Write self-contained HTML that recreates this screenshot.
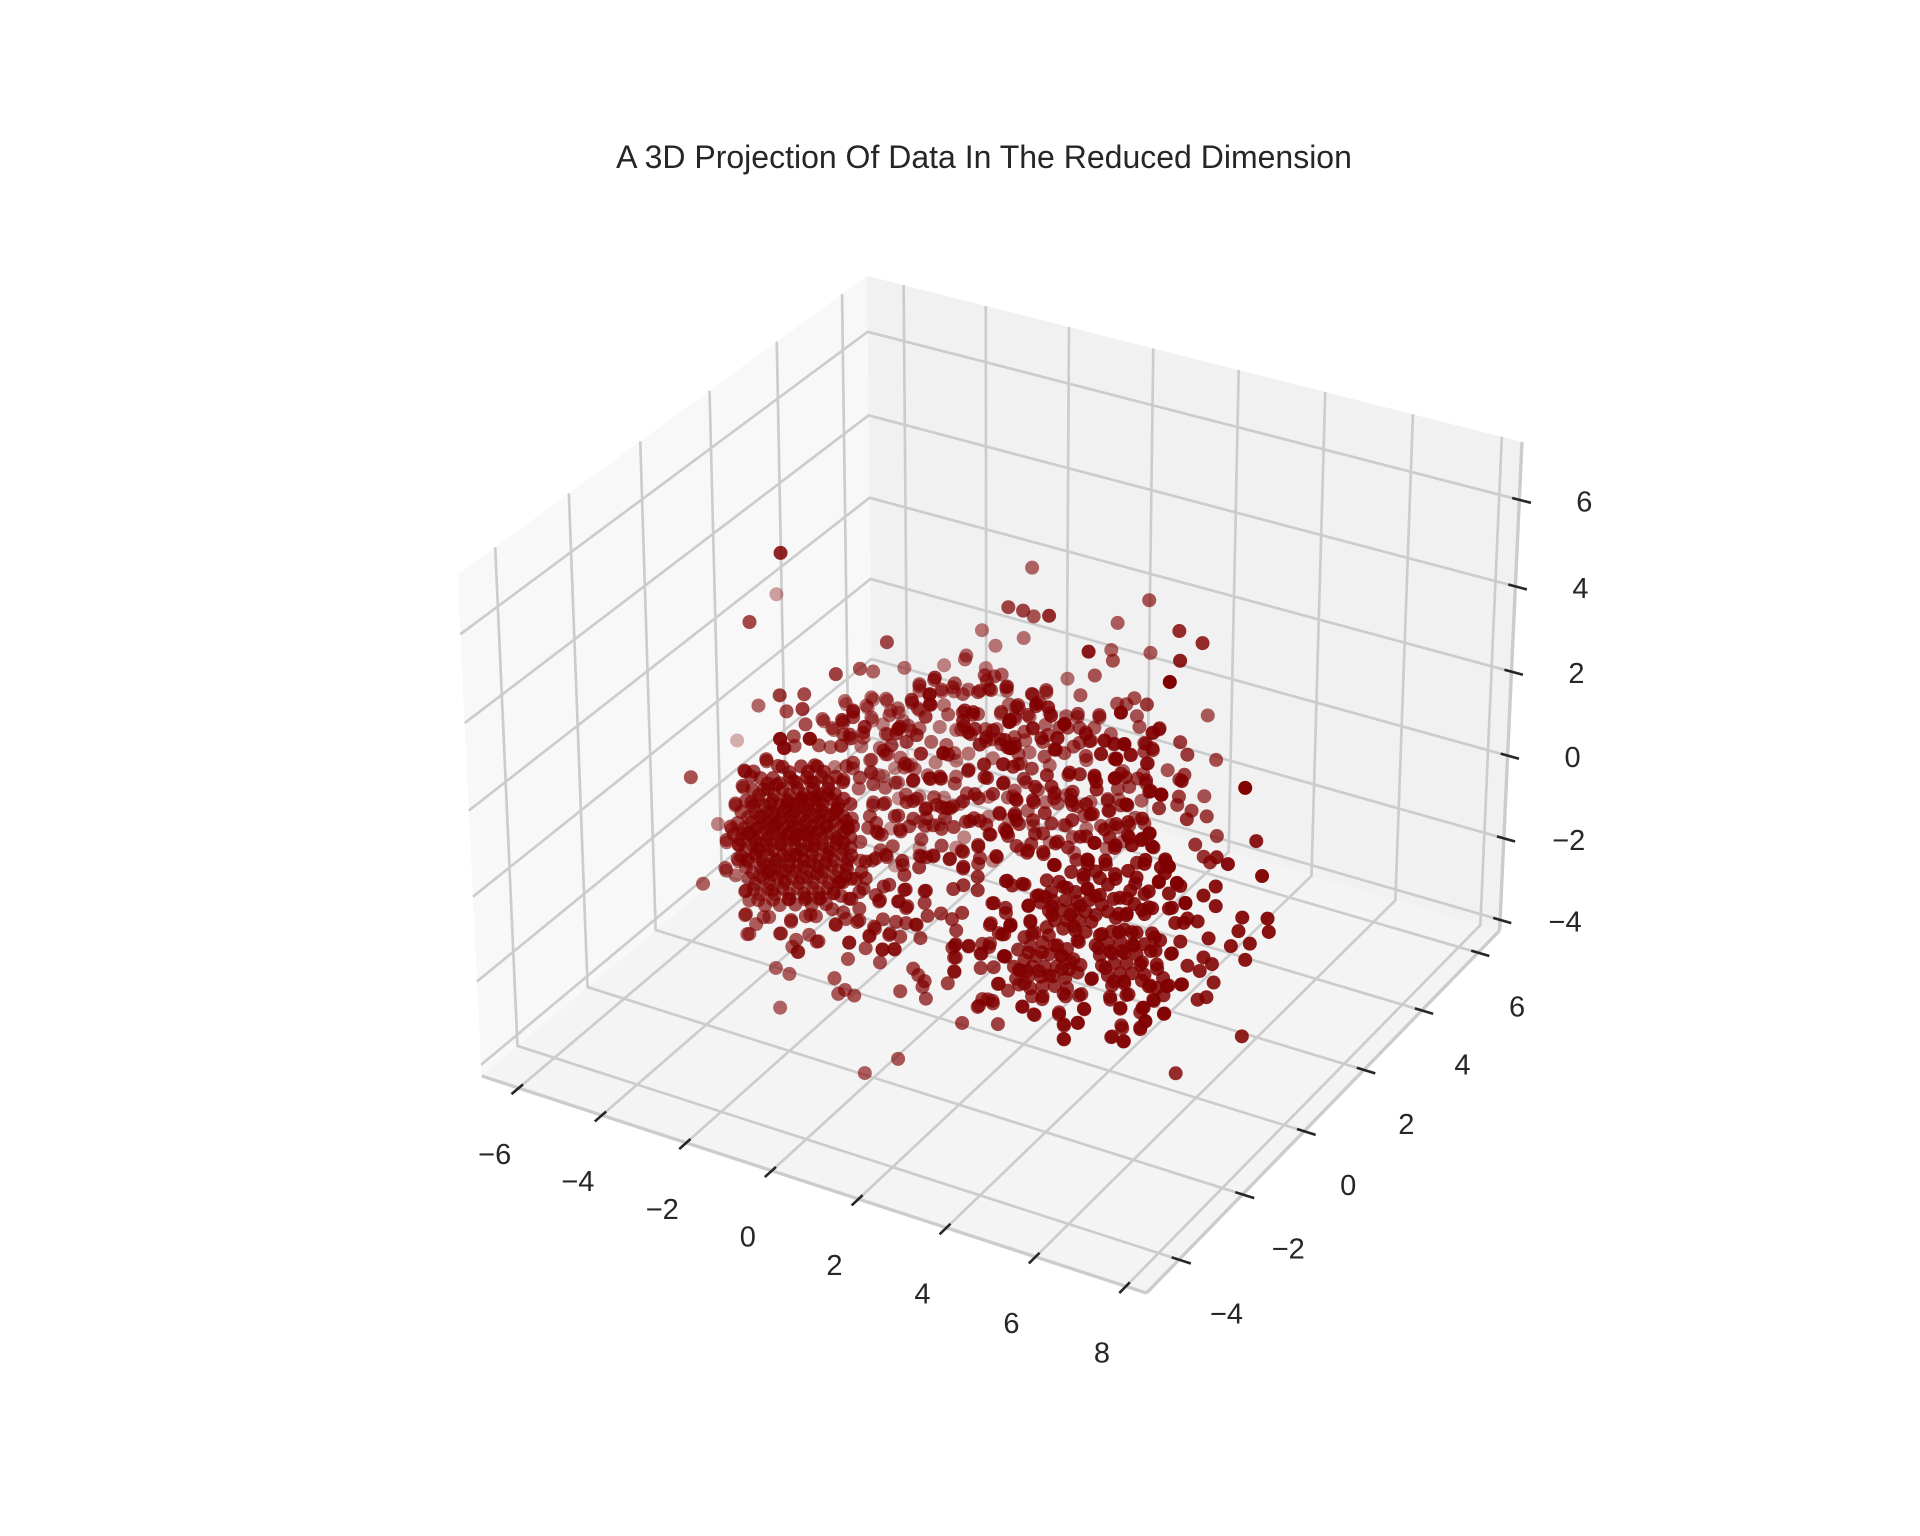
<!DOCTYPE html>
<html lang="en">
<head>
<meta charset="utf-8">
<title>A 3D Projection Of Data In The Reduced Dimension</title>
<style>
html,body{margin:0;padding:0;background:#fff;}
#chart{display:block;width:1920px;height:1536px;}
text{font-family:"Liberation Sans",Arial,sans-serif;fill:#262626;}
</style>
</head>
<body>
<svg id="chart" xmlns="http://www.w3.org/2000/svg" width="1920" height="1536" viewBox="0 0 1920 1536">
<rect x="0" y="0" width="1920" height="1536" fill="#ffffff"/>
<text x="984" y="168" font-size="32" text-anchor="middle">A 3D Projection Of Data In The Reduced Dimension</text>
<g id="panes"></g>
<g id="grid"></g>
<g id="axes"></g>
<g id="points"></g>
</svg>
<script>
const xLim = [-6.9, 8.45];
const yLim = [-5.0, 6.78];
const zLim = [-4.267, 7.322];
const xTicks = [-6, -4, -2, 0, 2, 4, 6, 8];
const yTicks = [-4, -2, 0, 2, 4, 6];
const zTicks = [-4, -2, 0, 2, 4, 6];
const xCentre = 0.15;
const zCentre = -0.17;

const outlierX = [-2.41,-6.27,-3.9,-0.2,2.58,0.74,1.09,0.59,2.46,1.83,
-1.39,-0.4,-1.07,4.8,5.35,1.68,2.61,-1.39,-1.01,-1.3,
4.15,2.47,5.57,-2.03,-2.47,-1.85,-2.48,-2.29,-1.04,0.64,
2.04,-1.37,-1.02,-0.53,0.23,-0.17];
const outlierY = [-2,3,-1,3,3,1,1,2,0,3,
3,3,3,1,1,3,3,0,2,3,
-1,2,0,0,1,-1,2,3,2,3,
2,1,1,1,1,2];
const outlierZ = [7.66,2.27,4.92,4.67,4.7,5.31,5.33,4.39,6.26,3.94,
2.83,2.93,2.55,5.92,5.79,3.25,3.45,4.51,2.99,1.95,
6.55,3.88,6.09,3.69,2.84,4.27,2.27,1.73,2.89,2.26,
3.4,2.86,3.06,3.12,3.41,2.78];

const leftX = [-4.54,-4.25,-5.4,-6.45,-4.44,-2.43,-2.6,-3.02,-1.89,-2.92,
-2.57,-2.42,-2.85,-1.72,-2.69,-0.95,-2.33,-3.49,-2.83,-2.25,
-2.73,-0.97,-3.25,-3.05,-2.47,-1.6,-4.04,-4.23,-4.32,-4.44,
-4.16,-4.45,-4.23,-3.25,-3.25,-2.81,-2.16,-1.7,-1.1,-3.2,
-2.42,-1.55,-1.99,-2.13,-0.78,-2.52,-2.2,-1.13,-0.88,-1.04,
-0.66,-2.42];
const leftY = [-2,-2,0,2,0,-2,-1,-1,-2,0,
-1,-2,-1,-2,0,-2,-2,-1,-1,-1,
0,-2,-2,-2,-2,-2,-1,-1,-1,-1,
-1,-1,-1,-2,-2,-2,-2,-2,-2,-2,
-2,-2,-2,-2,-2,-2,-2,-2,-2,-2,
-2,-2];
const leftZ = [1.68,-0.78,-1.0,-0.62,2.11,4.25,3.57,3.04,4.08,2.23,
2.86,3.21,2.49,3.42,2.08,4.09,3.02,1.71,2.27,2.45,
1.61,3.47,2.19,2.25,2.55,2.82,0.92,0.44,-0.15,-0.5,
-0.87,-1.18,-1.23,-0.67,-1.24,-1.16,-1.08,-0.78,-0.85,-1.68,
-1.44,-1.38,-1.75,-1.67,-1.18,-2.29,-2.34,-2.13,-2.34,-2.48,
-2.41,-3.21];

const backX = [-3.86,-3.22,-2.89,-3.35,-2.19,-3.24,-2.8,-2.61,-0.79,-2.12,
0.37,0.4,-1.54,-2.12,-1.59,-1.3,-0.96,0.07,1.04,-0.05,
0.41,0.65,-0.19,0,0.24,1.3,0.89,2.15,0.49,0.97,
1.63,1.7,2.15,2.57,2.98,2.79,4.03,3.04,5.67,6.83,
3.97];
const backY = [2,2,2,2,0,2,2,2,0,2,
-1,-1,2,2,2,2,2,1,0,2,
0,0,2,2,2,1,2,0,2,2,
2,2,2,2,2,2,1,2,-2,-2,
3];
const backZ = [1.0,1.3,1.36,1.06,2.61,0.79,1.15,1.16,3.24,1.36,
4.42,4.19,1.65,1.83,1.96,2.05,2.19,3.12,4.1,2.43,
3.35,3.37,1.84,2.11,2.09,3.4,2.66,4.01,1.96,2.19,
2.29,2.83,2.43,2.88,3.13,2.93,3.94,2.72,6.19,7.26,
2.35];

const upperX = [-2.67,-2.98,-2.7,-2.17,-1.87,-1.58,0.28,2.26,0.44,0.6,
0.2,0.55,0.15,1.32,3.57,2.58,1.9,4.18,4.33,4.82,
-2.54,-2.31,-2.17,-1.82,-1.34,0.7,0.06,0.35,1.47,0.98,
1.56,3.37,2.29,2.67,3.03,3.25,5.0,3.64,4.01,4.17,
4.03,4.8,2.94,4.99,4.92,0.16,-1.73];
const upperY = [1,1,1,1,1,1,-1,-1,0,0,
1,1,2,1,-1,1,1,1,1,1,
1,1,1,1,1,-1,1,1,0,1,
1,-1,1,1,1,1,-1,1,1,1,
1,-1,1,1,2,1,1];
const upperZ = [1.46,1.1,1.19,1.44,1.64,1.69,3.87,4.32,3.04,2.89,
2.24,2.1,1.81,2.59,4.65,2.81,2.52,3.31,3.46,3.27,
0.7,1.06,0.95,0.97,1.2,3.12,1.83,2.04,2.83,1.87,
2.33,3.98,2.43,2.67,2.78,2.76,4.58,2.63,3.0,2.89,
2.53,4.16,2.44,3.02,2.22,1.38,0.76];

const middleX = [-2.2,-1.77,-0.02,-0.36,-0.12,0.22,0.55,1.38,2.05,3.16,
2.92,4.29,4.78,4.28,4.76,4.8,6.36,4.92,-2.06,-1.43,
-1.19,5.59,5.88,8.62,4.64,4.79,-1.72,-1.43,-0.02,0.28,
0.66,0.86,1.28,2.1,2.58,3.02,3.1,3.87,5.07,5.07,
4.75,5.09,1.38,1.86,3.27,3.02,1.74,4.34,0.51,1.67,
1.54,-0.94,-0.27,2.88];
const middleY = [0,0,-1,0,0,0,0,0,0,-1,
0,-1,-1,0,0,1,-1,1,0,0,
0,-1,-1,-2,2,1,0,0,-1,-1,
-1,-1,0,0,0,0,1,0,-1,0,
1,1,0,0,-1,0,-1,-1,0,0,
-1,0,0,-1];
const middleZ = [1.26,1.3,2.25,1.54,1.62,1.6,2.03,2.4,2.49,3.31,
2.59,3.58,3.71,2.93,3.0,2.37,4.1,2.52,0.82,1.02,
1.21,3.62,3.63,5.25,1.27,1.96,0.51,0.66,1.77,1.66,
1.82,1.85,1.21,1.7,1.93,1.9,1.37,2.01,3.15,2.42,
1.75,1.71,1.96,2.19,3.07,2.22,2.83,3.31,1.45,1.65,
2.29,1.0,1.13,2.95];

const lowerX = [-1.47,-0.45,-0.11,0.27,1.24,0.95,1.43,2.4,4.19,5.09,
5.42,4.8,5.73,5.45,-1.27,-0.84,-0.31,0.18,0.66,0.66,
1.82,2.21,2.88,3.37,3.95,4.29,5.11,5.59,5.42,4.77,
5.69,5.93,5.69,8.13,1.53,1.14,-0.5,-0.79,-1.27,-0.98,
-0.64,-0.26,0.18,0.47,0.85,1.53,1.97,2.69,3.08,4.14,
5.3,5.98,6.13,6.28,7.19,2.5,3.27,3.76,2.79,3.66,
4.53,1.72,-0.89];
const lowerY = [-1,-1,-1,-1,-1,-1,-1,-1,-1,-1,
-1,-1,0,1,-1,-1,-1,-1,-1,-1,
-1,-1,-1,-1,-1,-1,-1,-1,-1,-1,
-1,0,1,-1,-1,-1,-1,-1,-1,-1,
-1,-1,-1,-1,-1,-1,-1,-1,-1,-1,
-1,-1,0,0,-1,-1,-1,-1,-1,-1,
-1,-1,-1];
const lowerZ = [0.93,1.28,1.14,1.26,1.64,1.43,1.78,2.12,2.67,2.75,
2.93,2.62,2.35,1.68,0.43,0.76,0.96,0.91,1.3,0.9,
1.5,1.66,1.83,1.74,2.07,2.02,2.39,2.62,2.45,2.04,
2.32,1.8,1.28,3.18,1.17,0.92,0.55,0.37,-0.02,0.07,
0.25,0.17,0.5,0.59,0.63,0.72,1.01,1.32,1.4,1.56,
1.84,2.07,1.57,1.48,2.52,1.95,2.19,2.41,1.56,1.73,
2.41,1.71,0.99];

const frontY = -2;
const farY = 1;
const midY = -1;
const rearY = 2;
const frontX = [0.88,1.93,4.1,5.31,6.81,6.62,8.21,9.02,-0.49,0.53,
-0.73,-1.02,2.27,-0.73,-0.05,-0.15,0.04,0.53,1.01,0.38,
0.57,1.93,1.69,2.27,2.94,3.38,3.91,5.17,5.53,6.23,
6.57,7.0,7.63,7.92,1.01,2.65,3.67,3.47,0.02,-0.59,
0.33,0.82,1.08,1.4,1.66,1.9,2.56,2.94,3.04,3.52,
6.81,7.2,7.92,7.25,7.49,8.55,9.15,-0.17,0.57,-0.39,
0.01,0.3,-0.3,0.19,0.43,0.91,1.76,1.73,2.05,2.56,
2.9,2.36,2.9,3.38,7.75,8.28,8.73,9.18,8.46,-0.81,
1.71,6.86,-0.05,0.74,0.86,1.01,0.96,1.04,0.43,1.56,
1.72,2.34,2.65,2.75,2.99,3.38,7.25,7.63,7.54,7.83,
8.62,7.87,7.49,7.7,7.1,2.51,2.27,2.63,3.33,1.9,
2.75,3.62,4.2,4.32,4.64,4.8,5.65,6.18,6.25,6.69,
5.68,6.13,5.44,5.73,4.32,0.38,-0.41,6.97,8.54,
-0.83,-0.92,-0.73,-0.83,-0.97,-0.44,-0.54,-0.92];
const frontZ = [1.1,1.42,2.09,2.46,2.84,2.77,3.31,3.26,0.59,0.82,
0.36,0.19,1.28,-0.12,0.05,0.14,0.4,0.46,0.57,0.14,
0.04,0.98,0.82,0.96,1.37,1.42,1.67,2.09,2.29,2.02,
2.4,2.5,2.39,2.69,0.29,0.76,1.23,0.93,-0.39,-0.63,
-0.36,-0.29,0,0.15,0.09,0.31,0.21,0.61,0.33,0.59,
1.84,2.08,2.22,1.73,1.73,2.13,2.28,-0.67,-0.32,-1.2,
-1.12,-1.03,-0.89,-0.68,-0.69,-0.58,-0.15,-0.52,-0.45,-0.23,
0.09,-0.53,-0.43,0.16,1.4,1.37,1.56,1.97,1.78,-1.58,
-0.81,0.77,-1.44,-1.36,-1.48,-1.58,-1.73,-1.99,-1.99,-1.47,
-1.15,-0.88,-0.77,-1.14,-1.23,-0.95,0.6,0.91,0.56,0.81,
1.14,0.38,-0.14,-0.02,0.11,-1.58,-1.83,-1.64,-1.52,-2.32,
-2.1,-1.63,-1.45,-1.68,-1.52,-1.15,-0.89,-0.72,-1.02,-0.71,
-1.28,-1.24,-1.63,-1.65,-2.01,-3.62,-4.19,-2.05,-0.71,
1.54,1.18,0.92,0.57,-0.12,0.21,-0.3,-0.5];

const clusterAX = [3.23,3.52,3.81,4.1,4.39,3.38,3.67,3.96,4.25,4.54,
3.28,3.57,3.86,4.15,4.44,3.18,3.47,3.77,4.05,4.35,
4.64,3.52,3.81,4.1,4.39,3.81];
const clusterAZ = [-0.18,-0.01,0.16,0.17,0.17,-0.39,-0.21,-0.08,-0.03,-0.03,
-0.66,-0.49,-0.4,-0.31,-0.3,-0.89,-0.76,-0.67,-0.58,-0.53,
-0.32,-1.02,-0.89,-0.8,-0.76,-1.13];

const clusterBX = [4.01,4.3,4.59,4.88,5.17,3.77,4.05,4.35,4.64,4.93,
5.22,3.96,4.25,4.54,4.83,5.07,4.1,4.39,4.68,4.97,
4.3,4.59,4.83,4.64,3.91,3.62];
const clusterBZ = [1.42,1.63,1.59,1.76,1.69,1.1,1.23,1.32,1.37,1.5,
1.47,0.96,1.05,1.14,1.19,1.18,0.77,0.85,0.94,0.99,
0.63,0.67,0.71,0.45,0.55,0.34];

const clusterCX = [5.17,5.46,5.75,6.04,5.07,5.36,5.65,5.94,6.23,6.47,
5.17,5.46,5.75,6.04,6.38,5.22,5.51,5.8,6.13,6.52,
5.36,5.65,5.94,6.23,6.67,5.46,5.75,6.33,6.52,5.41,
5.8,6.44,4.97,4.73,4.35,6.76,
5.36,5.8,6.23,5.99,6.33,5.65,5.89,5.55,4.88,6.04,
6.23,6.71,6.81,4.78,4.49,4.2,5.36,5.07,5.84];
const clusterCZ = [0.73,0.9,1.03,1.04,0.46,0.59,0.72,0.73,0.82,1.05,
0.25,0.38,0.47,0.52,0.7,0.02,0.15,0.24,0.3,0.42,
-0.18,-0.05,0.04,0.09,0.14,-0.39,-0.26,-0.16,-0.14,-0.68,
-0.52,-0.44,-0.38,-0.81,-0.97,-0.03,
1.35,1.39,1.54,1.71,1.73,1.76,2.0,1.25,2.32,2.36,
2.74,2.65,2.2,1.98,2.04,1.72,1.99,2.22,2.46];

const coreX = [-2.36,-1.92,-1.54,
-2.88,-2.59,-2.19,-1.78,-1.43,-1.09,
-3.08,-2.71,-2.36,-2.01,-1.63,-1.28,
-3.23,-2.94,-2.59,-2.25,-1.92,-1.57,-1.2,-0.91,
-3.34,-3.02,-2.71,-2.36,-2.07,-1.75,-1.43,-1.09,
-3.43,-3.11,-2.8,-2.48,-2.16,-1.83,-1.49,-1.14,-0.85,
-3.52,-3.2,-2.88,-2.57,-2.22,-1.89,-1.57,-1.25,-0.91,
-3.4,-3.08,-2.74,-2.42,-2.07,-1.75,-1.43,-1.09,
-3.34,-2.99,-2.68,-2.36,-2.01,-1.66,-1.31,-0.97,
-3.23,-2.88,-2.54,-2.22,-1.86,-1.54,-1.2,
-3.17,-2.83,-2.48,-2.13,-1.78,-1.43,-1.09,
-3.05,-2.71,-2.36,-2.01,-1.66,-1.31,
-2.94,-2.59,-2.22,-1.83,-1.49];
const coreZ = [2.56,2.7,2.81,
2.14,2.23,2.36,2.48,2.59,2.69,
1.81,1.92,2.03,2.14,2.25,2.36,
1.5,1.59,1.7,1.81,1.91,2.01,2.13,2.22,
1.2,1.3,1.39,1.5,1.59,1.69,1.79,1.89,
0.91,1.01,1.11,1.21,1.3,1.4,1.51,1.62,1.71,
0.61,0.71,0.81,0.91,1.02,1.11,1.21,1.31,1.42,
0.39,0.49,0.6,0.69,0.8,0.9,1.0,1.1,
0.14,0.25,0.34,0.44,0.55,0.66,0.76,0.87,
-0.09,0.02,0.13,0.23,0.33,0.43,0.54,
-0.34,-0.23,-0.12,-0.02,0.09,0.2,0.3,
-0.56,-0.46,-0.35,-0.24,-0.13,-0.03,
-0.79,-0.68,-0.56,-0.45,-0.34];

const coreInnerX = [-2.2,-1.76,-1.38,
-2.72,-2.43,-2.03,-1.62,-1.27,-0.93,
-2.92,-2.55,-2.2,-1.85,-1.47,-1.12,
-3.07,-2.78,-2.43,-2.09,-1.76,-1.41,-1.04,-0.75,
-3.18,-2.86,-2.55,-2.2,-1.91,-1.59,-1.27,-0.93,
-3.27,-2.95,-2.64,-2.32,-2.0,-1.67,-1.33,-0.98,-0.69,
-3.36,-3.04,-2.72,-2.41,-2.06,-1.73,-1.41,-1.09,-0.75,
-3.24,-2.92,-2.58,-2.26,-1.91,-1.59,-1.27,-0.93,
-3.18,-2.83,-2.52,-2.2,-1.85,-1.5,-1.15,-0.81,
-3.07,-2.72,-2.38,-2.06,-1.7,-1.38,-1.04,
-3.01,-2.67,-2.32,-1.97,-1.62,-1.27,-0.93,
-2.89,-2.55,-2.2,-1.85,-1.5,-1.15,
-2.78,-2.43,-2.06,-1.67,-1.33,
-2.9,-2.6,-2.3,-2.0,-1.7,
-3.0,-2.7,-2.4,-2.1,-1.8,-1.5,
-3.0,-2.7,-2.4,-2.1,-1.8,-1.5,
-3.0,-2.7,-2.4,-2.1,-1.8,-1.5,
-2.8,-2.5,-2.2,-1.9,-1.6,
-2.6,-2.3,-2.0,-1.7];
const coreInnerZ = [2.48,2.62,2.73,
2.06,2.15,2.28,2.4,2.51,2.61,
1.73,1.84,1.95,2.06,2.17,2.28,
1.42,1.51,1.62,1.73,1.83,1.93,2.05,2.14,
1.12,1.22,1.31,1.42,1.51,1.61,1.71,1.81,
0.83,0.93,1.03,1.13,1.22,1.32,1.43,1.54,1.63,
0.53,0.63,0.73,0.83,0.94,1.03,1.13,1.23,1.34,
0.31,0.41,0.52,0.61,0.72,0.82,0.92,1.02,
0.06,0.17,0.26,0.36,0.47,0.58,0.68,0.79,
-0.17,-0.06,0.05,0.15,0.25,0.35,0.46,
-0.42,-0.31,-0.2,-0.1,0.01,0.12,0.22,
-0.64,-0.54,-0.43,-0.32,-0.21,-0.11,
-0.87,-0.76,-0.64,-0.53,-0.42,
1.2,1.4,1.6,1.8,2.0,
0.9,1.1,1.3,1.5,1.7,1.9,
0.6,0.8,1.0,1.2,1.4,1.6,
0.3,0.5,0.7,0.9,1.1,1.3,
0.1,0.3,0.5,0.7,0.9,
-0.1,0.1,0.3,0.5];

const coreOuterX = [-3.3,-3.1,-2.8,-2.5,-2.1,-1.7,-1.3,-1.05,-0.8,-0.75,
-0.85,-1.0,-1.15,-1.45,-1.8,-2.2,-2.6,-2.9,-3.2,-3.4,
-2.65,-2.25,-1.9,-1.55,-1.2,-1.3,-1.05,-1.25,-1.35,-1.55,
-1.9,-2.3,-2.65,-2.95,-3.15,-2.55,-2.25,-2.0,-1.7,-2.05];
const coreOuterZ = [0.7,1.5,1.9,2.1,2.3,2.4,2.2,1.95,1.55,1.1,
0.65,0.2,-0.1,-0.3,-0.4,-0.55,-0.45,-0.2,0.1,0.4,
1.6,1.75,1.95,2.1,1.75,1.45,1.2,0.85,0.55,0.25,
0.05,-0.15,0.0,0.45,0.75,1.1,0.95,1.05,1.2,0.55];

const farWestX = [-2.63,-2.51,-2.16,-2.51,-2.67,-3.4,-3.64,-2.12,-1.88,-2.08,
-1.64,-1.37,-0.85,-0.58,-0.34,0.02,0.02,0.33,0.71,0.57,
0.93,0.18,0.41,-0.69,-1.41,-1.09,-0.73,-0.54,-1.17,-0.85,
-0.5,0.21,0.17,0.57,0.89,0.61,0.97,0.06,-0.38,-2.12,
-2.51,-2.51,-2.23,-1.88,-1.64,-1.48,-1.33,-1.88,-1.37,-3.38,
-2.75,-3.02,-3.14];
const farWestZ = [1.98,2.21,2.28,1.73,1.46,1.17,1.31,1.44,2.13,1.91,
1.79,2.81,2.88,3.01,2.92,3.07,2.55,3.21,3.41,2.76,
2.99,3.52,3.56,2.33,2.27,1.56,1.59,1.45,0.74,0.75,
0.9,1.96,1.39,1.99,2.09,1.52,1.63,1.83,2.06,0.96,
0.72,0.4,0.41,0.36,0.83,0.8,1.21,1.64,1.8,0.29,
0.97,1.08,1.94];

const midWestX = [-1.67,-1.44,-1.44,-0.05,0.38,0.38,0.5,1.21,1.41,1.17,
1.29,1.45,1.88,1.72,2.28,2.16,2.28,2.4,-0.33,-0.41,
-0.72,-0.53,0.07,-0.17,0.7,0.82,-0.21,-0.01,0.38,0.62,
1.29,1.68,1.88,2.12,2.36,-1.67,-1.52,-1.2,-1.6,-1.44,
-1.28,-1.67,-0.96,-0.96,-0.72,-1.04,-1.08,-0.88,-0.76,-0.17,
0.07,0.3,0.54,0.78,0.93,-0.37,-0.01,0.3,0.46,0.74,
-0.33,1.33,1.57,1.17,1.45,2.04,2.2,2.44,2.44,1.8,
1.53,1.57,1.96,1.17,1.17,0.86,0.46,0.14,0.3];
const midWestZ = [3.18,3.52,3.36,4.18,4.44,4.2,4.87,4.29,4.31,4.03,
3.79,3.92,4.01,3.8,4.38,3.86,3.7,3.77,3.45,3.27,
2.77,2.95,3.37,3.14,3.13,3.12,2.61,2.27,2.43,2.54,
2.87,2.83,2.49,2.81,3.28,2.88,2.92,3.06,2.14,2.27,
1.96,1.8,1.9,1.46,1.49,1.11,0.82,0.79,0.75,1.7,
1.85,1.69,1.84,1.83,1.92,1.32,1.35,1.45,1.33,1.58,
1.0,1.68,1.76,2.11,2.36,2.06,1.7,2.02,2.5,1.5,
1.13,0.87,1.03,0.9,0.5,0.65,0.61,0.51,0.52];

const nearWestX = [-1.71,-2.32,-2.42,-2.75,-3.27,-3.11,-3.31,-3.48,-3.59,-3.69,
-3.72,-3.43,-3.23,-3.15,-3.23,-3.15,-2.99,-2.68,-2.4,-2.16,
-2.04,-2.0,-1.73,-1.51,-1.81,-1.57,-1.18,-1.1,-0.86,-0.54,
-0.78,-0.19,0.17,0.29,0.01,-0.3,-0.07,0.17,0.56,1.04,
0.6,0.8,0.4,-0.39,-0.15,0.09,0.48,-0.39,-0.62,-0.78,
-0.54,-0.86,
1.75,1.75,1.71,2.06,2.38,2.54,2.58,2.77,2.62,2.93,
3.05,2.93,3.13,2.77,2.62,2.3,2.38,1.67,2.34,3.25];
const nearWestZ = [3.42,3.02,3.21,2.63,2.21,2.12,1.83,1.36,0.78,0.43,
-0.25,0.05,-0.65,-0.86,-1.21,-1.66,-1.38,-1.12,-1.43,-1.04,
-1.48,-1.76,-1.27,-1.36,-0.85,-0.78,-0.5,-0.83,-0.64,-0.58,
-1.18,-0.63,-0.72,-1.02,-1.11,-0.87,0.01,0.48,0.48,0.59,
0.09,-0.29,0.15,0.87,1.02,1.17,1.14,0.47,0.39,-0.13,
0.1,0.4,
-0.48,-0.8,-1.14,-0.43,-0.29,-0.32,0.26,0.08,0.75,0.73,
0.37,-0.44,-0.62,-1.13,-1.58,-1.79,-1.61,-0.59,-0.54,-0.66];

const farEastX = [0.69,1.32,1.64,1.48,0.97,1.2,0.89,1.95,2.39,2.15,
2.43,2.58,2.9,2.7,3.02,3.26,1.68,1.91,1.32,1.12,
0.89,1.6,2.43,2.94,2.58,2.07,3.61,3.81,3.41,4.01,
3.97,4.16,3.97,4.32,4.16,4.05,3.65,3.26,1.04,1.44,
1.16,0.89,0.73,3.34,3.41,3.1,3.14,2.39,2.23,1.2,
2.07,3.34,3.61,3.97,2.94,2.54,2.27,1.91];
const farEastZ = [3.38,3.39,3.59,3.25,3.04,2.87,2.74,2.78,3.24,2.84,
2.92,2.85,3.36,2.69,2.79,2.78,2.53,2.52,2.58,2.44,
2.25,1.99,2.56,2.44,2.29,2.21,1.85,2.11,2.11,2.05,
3.0,2.93,2.8,3.43,3.3,2.54,2.62,2.42,1.66,1.14,
1.25,0.97,0.76,1.72,1.35,1.41,1.14,1.03,1.26,0.58,
0.49,0.8,0.93,1.08,0.72,0.84,0.26,0.96];

const midEastX = [2.91,3.19,3.26,2.28,3.58,3.03,2.32,3.34,3.7,3.94,
4.29,4.33,4.81,5.0,4.77,3.34,3.74,2.83,3.11,2.83,
3.07,2.4,2.16,2.24,4.25,4.09,5.63,5.87,5.04,4.09,
4.29,4.65,5.08,5.6,5.4,3.42,3.07,2.71,2.44,3.86];
const midEastZ = [4.94,4.94,4.76,4.33,4.66,4.16,3.71,3.98,3.53,3.56,
3.63,3.49,4.19,4.59,3.7,2.94,2.86,2.62,2.39,2.14,
1.89,2.17,1.73,1.59,2.7,2.89,3.65,3.64,3.16,2.12,
2.02,2.25,2.43,2.63,2.41,1.8,1.45,1.38,1.41,1.49];

const nearEastX = [2.97,3.33,3.09,3.72,3.88,3.48,4.04,4.39,4.87,5.06,
5.5,5.81,6.01,6.33,5.54,4.79,4.08,4.87,5.3,5.54,
5.93,6.25,6.41,6.72,6.8,6.57,7.0,7.08,7.2,6.88,
6.17,6.41,5.81,5.62,4.47,4.71,4.04,3.52,3.05,2.85,
3.56,3.96,4.55,4.67,5.22,5.62,5.93,6.41,6.6,5.14,
5.42,5.7,5.97,6.49,6.88,3.48,3.8,4.16,4.27,2.89,
4.47,4.71,4.98,5.3,5.5,5.74,6.17,6.53,6.17,6.37,
6.8,7.12,3.44,3.72,3.96,4.27,3.25,3.56,3.8,4.31,
4.67,4.79,5.42,5.66,5.85,6.45,6.68,3.33,3.6,4.2,
4.31,4.65,6.13,6.25,6.13,6.21,6.7,5.7,5.46,5.74,
4.31,6.96,7.16,7.08];
const nearEastZ = [1.39,1.42,1.31,1.26,1.27,0.95,1.08,1.63,1.74,1.63,
1.69,1.79,2.21,2.11,2.18,2.07,2.09,2.45,2.55,2.98,
3.1,2.84,3.21,2.99,2.85,2.42,2.51,2.46,2.09,1.88,
1.62,1.73,1.43,1.37,1.01,1.29,0.88,0.56,0.34,0.07,
0.29,0.37,0.76,0.42,0.77,0.93,1.02,1.13,1.02,0.41,
0.42,0.5,0.71,0.74,0.79,-0.18,-0.08,0.19,-0.02,-0.44,
-0.12,-0.12,-0.36,-0.02,-0.28,-0.21,0.37,0.32,-0.07,-0.13,
0,0.12,-0.63,-0.55,-0.59,-0.34,-1.01,-1.2,-1.2,-0.92,
-0.86,-1.14,-0.74,-0.87,-0.49,-0.47,-0.27,-1.51,-1.62,-1.4,
-1.65,-1.52,-1.2,-1.01,-0.84,-0.7,-0.7,-1.34,-1.61,-1.64,
-2.0,1.54,1.6,1.13];

const rearX = [-2.99,-2.51,-1.64,-1.25,-0.29,0.39,0.87,1.36,2.03,2.42,
3.1,-3.09,-2.7,-2.32,-1.74,-1.25,-0.96,-0.38,0.49,0.97,
1.84,2.71,3.19,3.77,-2.61,-2.12,-1.54,-1.16,-0.48,0.1,
0.87,1.36,1.94,2.61,3.15,-2.8,-2.12,-1.64,-1.06,-0.48,
0,0.58,1.36,1.84,2.42,3.0,-2.7,-2.12,-1.25,-0.38,
0.29,0.97,1.55,2.32,2.71];
const rearZ = [0.77,0.99,1.1,1.14,1.44,1.37,1.88,2.23,2.15,2.11,
2.48,-0.47,-0.19,0,0.22,0.41,0.66,0.72,1.11,0.94,
1.32,1.31,1.38,1.64,-0.89,-0.7,-0.56,-0.6,-0.23,-0.05,
0.03,0.34,0.35,0.6,0.73,-1.66,-1.3,-1.23,-1.37,-0.71,
-0.64,-0.62,-0.38,-0.32,-0.06,0.28,-2.52,-1.94,-1.67,-1.73,
-1.27,-0.9,-0.98,-0.65,-0.37];

const SVG_NS = 'http://www.w3.org/2000/svg';
const boxX = 1.19, boxY = 1.19, boxZ = 0.8925;
const viewDist = 10;
const markDist = 10.2;
const px = 6400, originX = 1000, originY = 760;
const ux = 0.866025, uy = 0.5;
const vx = -0.25, vy = 0.433013, vz = 0.866025;
const wx = 0.433013, wy = -0.75, wz = 0.5;

function scaleAxisX(v) { return (v - xLim[0]) / (xLim[1] - xLim[0]) * boxX - boxX / 2; }
function scaleAxisY(v) { return (v - yLim[0]) / (yLim[1] - yLim[0]) * boxY - boxY / 2; }
function scaleAxisZ(v) { return (v - zLim[0]) / (zLim[1] - zLim[0]) * boxZ - boxZ / 2; }

function project(x, y, z) {
  const a = scaleAxisX(x), b = scaleAxisY(y), c = scaleAxisZ(z);
  const right = a * ux + b * uy;
  const up = a * vx + b * vy + c * vz;
  const toward = a * wx + b * wy + c * wz;
  const d = viewDist - toward;
  return { sx: originX + px * right / d, sy: originY - px * up / d, depth: toward };
}
function projectMark(x, y, z) {
  const a = scaleAxisX(x), b = scaleAxisY(y), c = scaleAxisZ(z);
  const right = a * ux + b * uy;
  const up = a * vx + b * vy + c * vz;
  const toward = a * wx + b * wy + c * wz;
  return { sx: originX + px * right / markDist, sy: originY - px * up / markDist, depth: toward };
}

function make(tag, parent) {
  const el = document.createElementNS(SVG_NS, tag);
  parent.appendChild(el);
  return el;
}
function polyline(parent, pts, color, width) {
  const el = make('polyline', parent);
  el.setAttribute('points', pts.map(function (p) { return p.sx.toFixed(2) + ',' + p.sy.toFixed(2); }).join(' '));
  el.setAttribute('fill', 'none');
  el.setAttribute('stroke', color);
  el.setAttribute('stroke-width', width);
  return el;
}
function pane(parent, pts, color) {
  const el = make('polygon', parent);
  el.setAttribute('points', pts.map(function (p) { return p.sx.toFixed(2) + ',' + p.sy.toFixed(2); }).join(' '));
  el.setAttribute('fill', color);
  return el;
}
function label(parent, x, y, value) {
  const el = make('text', parent);
  el.setAttribute('x', x.toFixed(1));
  el.setAttribute('y', y.toFixed(1));
  el.setAttribute('font-size', '29');
  el.setAttribute('text-anchor', 'middle');
  el.textContent = String(value).replace('-', '\u2212');
  return el;
}

const x0 = xLim[0], x1 = xLim[1], y0 = yLim[0], y1 = yLim[1], z0 = zLim[0], z1 = zLim[1];
const panes = document.getElementById('panes');
const gridG = document.getElementById('grid');
const axesG = document.getElementById('axes');
const pointsG = document.getElementById('points');

const leftPane = pane(panes, [project(x0,y0,z0), project(x0,y1,z0), project(x0,y1,z1), project(x0,y0,z1)], '#f8f8f8');


const backPane = pane(panes, [project(x0,y1,z0), project(x1,y1,z0), project(x1,y1,z1), project(x0,y1,z1)], '#f1f1f1');


const floorPane = pane(panes, [project(x0,y0,z0), project(x1,y0,z0), project(x1,y1,z0), project(x0,y1,z0)], '#f4f4f4');



const gridColor = '#cccccc', gridWidth = 2.67, edgeWidth = 3.4, tickColor = '#262626', tickWidth = 2.6;

xTicks.forEach(function (t) {
  const g = polyline(gridG, [project(t,y0,z0), project(t,y1,z0), project(t,y1,z1)], gridColor, gridWidth);
  
  
});
yTicks.forEach(function (t) {
  const g = polyline(gridG, [project(x1,t,z0), project(x0,t,z0), project(x0,t,z1)], gridColor, gridWidth);
  
  
});
zTicks.forEach(function (t) {
  const g = polyline(gridG, [project(x0,y0,t), project(x0,y1,t), project(x1,y1,t)], gridColor, gridWidth);
  
  
});

const xAxisLine = polyline(axesG, [project(x0,y0,z0), project(x1,y0,z0)], gridColor, edgeWidth);


const yAxisLine = polyline(axesG, [project(x1,y0,z0), project(x1,y1,z0)], gridColor, edgeWidth);


const zAxisLine = polyline(axesG, [project(x1,y1,z0), project(x1,y1,z1)], gridColor, edgeWidth);



xTicks.forEach(function (t) {
  const m = polyline(axesG, [project(t,y0+0.12,z0), project(t,y0-0.2,z0)], tickColor, tickWidth);
  
  
  const e = project(t,y0,z0);
  const l = label(axesG, e.sx - 24, e.sy + 76, t);
  
  
});
yTicks.forEach(function (t) {
  const m = polyline(axesG, [project(x1-0.16,t,z0), project(x1+0.26,t,z0)], tickColor, tickWidth);
  
  
  const e = project(x1,t,z0);
  const l = label(axesG, e.sx + 39 + (6 - t) * 0.85, e.sy + 64, t);
  
  
});
zTicks.forEach(function (t) {
  const m = polyline(axesG, [project(x1-0.16,y1,t), project(x1+0.26,y1,t)], tickColor, tickWidth);
  
  
  const e = project(x1,y1,t);
  const l = label(axesG, e.sx + 65, e.sy + 11.5, t);
  
  
});

const marks = [];
function addSeries(xs, ys, zs) {
  const n = Math.min(xs.length, zs.length, Array.isArray(ys) ? ys.length : xs.length);
  for (let i = 0; i < n; i++) {
    const yv = Array.isArray(ys) ? ys[i] : ys;
    marks.push(projectMark(xs[i] + xCentre, yv, zs[i] + zCentre));
  }
}
addSeries(outlierX, outlierY, outlierZ);
addSeries(leftX, leftY, leftZ);
addSeries(backX, backY, backZ);
addSeries(upperX, upperY, upperZ);
addSeries(middleX, middleY, middleZ);
addSeries(lowerX, lowerY, lowerZ);
addSeries(frontX, frontY, frontZ);
addSeries(clusterAX, frontY, clusterAZ);
addSeries(clusterBX, frontY, clusterBZ);
addSeries(clusterCX, frontY, clusterCZ);
addSeries(coreX, frontY, coreZ);
addSeries(coreInnerX, frontY, coreInnerZ);
addSeries(coreOuterX, frontY, coreOuterZ);
addSeries(farWestX, farY, farWestZ);
addSeries(midWestX, midY, midWestZ);
addSeries(nearWestX, frontY, nearWestZ);
addSeries(farEastX, farY, farEastZ);
addSeries(midEastX, midY, midEastZ);
addSeries(nearEastX, frontY, nearEastZ);
addSeries(rearX, rearY, rearZ);

let dMin = Infinity, dMax = -Infinity;
marks.forEach(function (m) { dMin = Math.min(dMin, m.depth); dMax = Math.max(dMax, m.depth); });
marks.sort(function (a, b) { return a.depth - b.depth; });
marks.forEach(function (m) {
  const c = make('circle', pointsG);
  c.setAttribute('cx', m.sx.toFixed(2));
  c.setAttribute('cy', m.sy.toFixed(2));
  c.setAttribute('r', '7');
  c.setAttribute('fill', '#800000');
  c.setAttribute('fill-opacity', (0.3 + 0.7 * Math.pow((m.depth - dMin) / (dMax - dMin), 0.75)).toFixed(3));
  
  
});
</script>
</body>
</html>
